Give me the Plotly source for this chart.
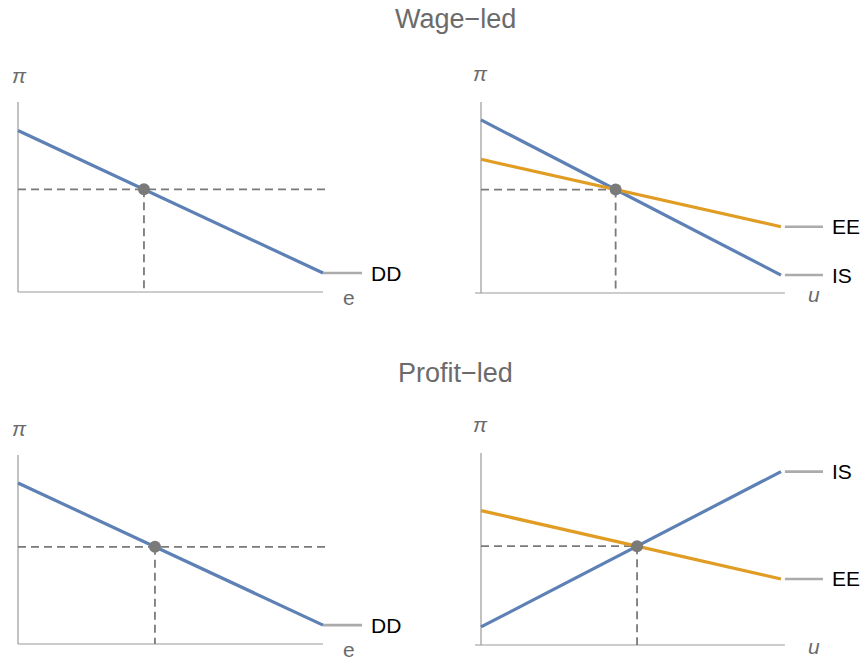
import plotly.graph_objects as go

W, H = 868, 660

# ---------------- data ----------------
titles = ["Wage\u2212led", "Profit\u2212led"]

# top-left: demand regime (wage-led)
wl_e = [0.0, 1.0]
wl_DD = [0.85, 0.10]
wl_e_star = 0.413

# top-right: IS / EE (wage-led)
wl_u = [0.0, 1.0]
wl_IS = [0.906, 0.094]
wl_EE = [0.70, 0.347]

# bottom-left: demand regime (profit-led)
pl_e = [0.0, 1.0]
pl_DD = [0.852, 0.10]
pl_e_star = 0.449

# bottom-right: IS / EE (profit-led)
pl_u = [0.0, 1.0]
pl_IS = [0.094, 0.903]
pl_EE = [0.70, 0.344]

# ---------------- style ----------------
BLUE = "#5E81B5"
ORANGE = "#E19C24"
AXIS = "#9a9a9a"
DASH = "#7a7a7a"
PT = "#7a7a7a"
LEG = "#ababab"
LABEL = "#6b6b6b"
FONT = "Liberation Sans, Arial, sans-serif"

XMIN, XMAX = -0.05, 1.17
YMIN, YMAX = -0.07, 1.2

# pixel anchors of data 0 and 1 for each panel: (x0, x1, y0, y1)
panels = [
    (18, 323, 292, 102),
    (481, 781, 293, 102),
    (18, 323, 644, 455),
    (481, 781, 645, 453),
]

fig = go.Figure()
layout = dict(width=W, height=H, margin=dict(l=0, r=0, t=0, b=0),
              paper_bgcolor="white", plot_bgcolor="white", showlegend=False)

for i, (x0, x1, y0, y1) in enumerate(panels):
    sx = x1 - x0
    sy = y0 - y1
    dl = (x0 + XMIN * sx) / W
    dr = (x0 + XMAX * sx) / W
    db = 1 - (y0 - YMIN * sy) / H
    dt = 1 - (y0 - YMAX * sy) / H
    n = "" if i == 0 else str(i + 1)
    layout["xaxis" + n] = dict(domain=[dl, dr], range=[XMIN, XMAX], visible=False,
                               anchor="y" + n, fixedrange=True)
    layout["yaxis" + n] = dict(domain=[db, dt], range=[YMIN, YMAX], visible=False,
                               anchor="x" + n, fixedrange=True)
fig.update_layout(**layout)


def ax(i):
    n = "" if i == 0 else str(i + 1)
    return "x" + n, "y" + n


def line(i, xs, ys, color, width=3, dash=None):
    xa, ya = ax(i)
    fig.add_trace(go.Scatter(x=xs, y=ys, mode="lines", xaxis=xa, yaxis=ya,
                             line=dict(color=color, width=width, dash=dash),
                             hoverinfo="skip"))


def point(i, x, y):
    xa, ya = ax(i)
    fig.add_trace(go.Scatter(x=[x], y=[y], mode="markers", xaxis=xa, yaxis=ya,
                             marker=dict(color=PT, size=12), hoverinfo="skip"))


def text(i, x, y, s, color, size, xanchor="left", italic=False):
    xa, ya = ax(i)
    fig.add_annotation(x=x, y=y, xref=xa, yref=ya, text=(f"<i>{s}</i>" if italic else s),
                       showarrow=False, xanchor=xanchor, yanchor="middle",
                       font=dict(family=FONT, size=size, color=color))


def interp(xs, ys, x):
    return ys[0] + (ys[1] - ys[0]) * (x - xs[0]) / (xs[1] - xs[0])


def intersect(xs, a, b):
    sa = (a[1] - a[0]) / (xs[1] - xs[0])
    sb = (b[1] - b[0]) / (xs[1] - xs[0])
    x = xs[0] + (b[0] - a[0]) / (sa - sb)
    return x, interp(xs, a, x)


DASHSTYLE = "8px,5px"

# ---- left panels (demand regime) ----
for i, xs, dd, es, xlab in [(0, wl_e, wl_DD, wl_e_star, "e"), (2, pl_e, pl_DD, pl_e_star, "e")]:
    ps = interp(xs, dd, es)
    line(i, [0, 1.0], [0, 0], AXIS, 1.2)
    line(i, [0, 0], [0, 1.0], AXIS, 1.2)
    line(i, [0, 1.007], [ps, ps], DASH, 1.8, DASHSTYLE)
    line(i, [es, es], [ps, 0], DASH, 1.8, DASHSTYLE)
    line(i, xs, dd, BLUE, 3.2)
    point(i, es, ps)
    line(i, [xs[1], xs[1] + 0.128], [dd[1], dd[1]], LEG, 2.6)
    text(i, xs[1] + 0.150, dd[1], "DD", "black", 21)
    text(i, 1.085, -0.03, xlab, LABEL, 21, "center")
    text(i, 0.005, 1.14, "\u03c0", LABEL, 21, "center", italic=True)

# ---- right panels (IS / EE) ----
for i, xs, IS, EE in [(1, wl_u, wl_IS, wl_EE), (3, pl_u, pl_IS, pl_EE)]:
    us, ps = intersect(xs, IS, EE)
    line(i, [-0.02, 1.013], [0, 0], AXIS, 1.2)
    line(i, [0, 0], [0, 1.0], AXIS, 1.2)
    line(i, [0, us], [ps, ps], DASH, 1.8, DASHSTYLE)
    line(i, [us, us], [ps, 0], DASH, 1.8, DASHSTYLE)
    line(i, xs, IS, BLUE, 3.2)
    line(i, xs, EE, ORANGE, 3.2)
    point(i, us, ps)
    for ys, lab in [(IS, "IS"), (EE, "EE")]:
        line(i, [xs[1] + 0.013, xs[1] + 0.14], [ys[1], ys[1]], LEG, 2.6)
        text(i, xs[1] + 0.163, ys[1], lab, "black", 21)
    text(i, 1.11, -0.01, "u", LABEL, 21, "center", italic=True)
    text(i, 0.0, 1.15, "\u03c0", LABEL, 21, "center", italic=True)

# ---- titles ----
for s, ypx in zip(titles, [19, 373]):
    fig.add_annotation(x=456 / W, y=1 - ypx / H, xref="paper", yref="paper", text=s,
                       showarrow=False, xanchor="center", yanchor="middle",
                       font=dict(family=FONT, size=27, color="#6b6b6b"))

fig.write_html("out.html", config={"displayModeBar": False},
               post_script="document.body.style.margin='0';document.body.style.overflow='hidden';")
